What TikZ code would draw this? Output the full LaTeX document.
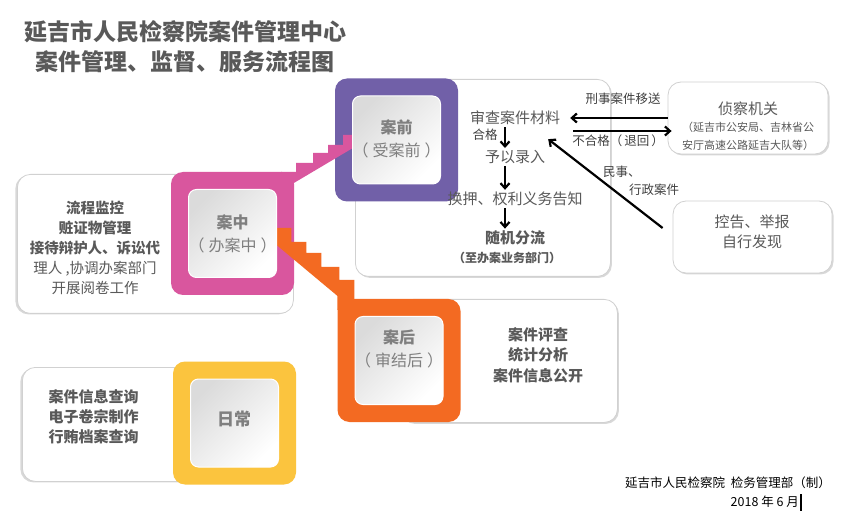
\documentclass[tikz,border=0pt]{standalone}
\usepackage{fontspec}
\setmainfont{Noto Sans CJK SC}
\usepackage{tikz}
\usetikzlibrary{arrows.meta, shadows}

\definecolor{qianc}{HTML}{7160A8}
\definecolor{zhongc}{HTML}{D9569E}
\definecolor{houc}{HTML}{F36A22}
\definecolor{richangc}{HTML}{FBC43E}
\definecolor{wordc}{HTML}{595959}
\definecolor{tagc}{HTML}{7F7F7F}

\begin{document}
\begin{tikzpicture}[
    x=1pt, y=-1pt,
    panel/.style={
        draw=black!18,
        line width=0.8pt,
        fill=white,
        rounded corners=13,
        inner sep=0pt
    },
    rpanel/.style={panel, drop shadow={opacity=0.3, shadow xshift=1.5pt, shadow yshift=-1.5pt}},
    lpanel/.style={panel, drop shadow={opacity=0.3, shadow xshift=-2pt, shadow yshift=-1pt}},
    ring/.style={rounded corners=12, minimum size=123, inner sep=0pt},
    core/.style={
        rounded corners=8,
        minimum size=88,
        inner sep=0pt,
        draw=white,
        line width=1pt,
        top color=black!14,
        bottom color=white,
        shading angle=45
    },
    tag/.style={font=\fontsize{16}{23}\selectfont, text=tagc, align=center},
    headline/.style={font=\fontsize{23}{26}\selectfont\bfseries, text=wordc},
    flow/.style={font=\fontsize{15}{18}\selectfont, text=wordc, inner sep=2pt},
    list/.style={font=\fontsize{14.5}{20}\selectfont\bfseries, text=wordc, align=center},
    note/.style={font=\fontsize{12.5}{14}\selectfont, text=black!75, inner sep=1pt},
    foot/.style={font=\fontsize{12.5}{14}\selectfont, text=black, inner sep=0pt},
    arr/.style={-{Straight Barb[length=5pt, width=9pt]}, line width=2.2pt}
]

% 背景和标题
\fill[white] (0,0) rectangle (854,529);
\useasboundingbox (0,0) rectangle (854,529);
\node[headline] (t1) at (185,32) {延吉市人民检察院案件管理中心};
\node[headline] (t2) at (185,62) {案件管理、监督、服务流程图};

% 白色底板
\node[rpanel, anchor=north west, minimum width=255, minimum height=197] (qianbg) at (355,79) {};
\node[lpanel, anchor=north west, minimum width=276, minimum height=139] (zhongbg) at (17,174) {};
\node[rpanel, anchor=north west, minimum width=217, minimum height=123] (houbg) at (400,299) {};
\node[lpanel, anchor=north west, minimum width=268, minimum height=114] (richangbg) at (22,367) {};
\node[rpanel, minimum width=160, minimum height=72] (zhencha) at (748,118) {};
\node[rpanel, minimum width=159, minimum height=72] (kongao) at (752.5,237) {};

% 彩色方框
\node[ring, fill=qianc] (qian) at (396.5,140) {};
\node[ring, fill=zhongc] (zhong) at (232.5,233.5) {};
\node[ring, fill=houc] (hou) at (399,360.5) {};
\node[ring, fill=richangc] (richang) at (234.5,423) {};

% 台阶
\begin{scope}[shift={(zhong.north east)}]
\fill[zhongc] (-13,0) -- (2,0) -- (2,-9) -- (19,-9) -- (19,-19) -- (34,-19) -- (34,-27)
    -- (49,-27) -- (49,-37) -- (59,-37) -- (59,-24) -- (0,11) -- (-13,11) -- cycle;
\end{scope}
\begin{scope}[shift={(hou.north west)}]
\fill[houc] (-61,-71) -- (-46,-71) -- (-46,-57) -- (-31,-57) -- (-31,-46) -- (-16,-46)
    -- (-16,-32) -- (2,-32) -- (2,-19) -- (17,-19) -- (17,11) -- (0,11) -- (0,-3)
    -- (-61,-54) -- cycle;
\end{scope}

% 内框
\node[core] (qianin) at (qian) {};
\node[core] (zhongin) at (zhong) {};
\node[core] (houin) at (hou) {};
\node[core] (richangin) at (richang) {};

\node[tag] (qiantxt) at (396.5,139) {\textbf{案前}\\（\hspace{4pt}受案前\hspace{4pt}）};
\node[tag] (zhongtxt) at (232.5,233.5) {\textbf{案中}\\（\hspace{4pt}办案中\hspace{4pt}）};
\node[tag] (houtxt) at (399,348.5) {\textbf{案后}\\（\hspace{4pt}审结后\hspace{4pt}）};
\node[tag, font=\fontsize{17}{20}\selectfont\bfseries] (richangtxt) at (234,419) {日常};

% 受案流程
\node[flow] (shencha) at (515,118) {审查案件材料};
\node[flow] (luru) at (515,157) {予以录入};
\node[flow] (gaozhi) at (515,199) {换押、权利义务告知};
\node[flow, font=\fontsize{15}{18}\selectfont\bfseries] (fenliu) at (515,238) {随机分流};
\node[flow, font=\fontsize{12}{14}\selectfont\bfseries] (bumen) at (507,258) {（至办案业务部门）};
\node[note] (hege) at (485,135) {合格};

\draw[arr] ([xshift=-10pt]shencha.south) -- ([xshift=-10pt]luru.north);
\draw[arr] ([xshift=-10pt]luru.south) -- ([xshift=-10pt]gaozhi.north);
\draw[arr] ([xshift=-10pt]gaozhi.south) -- ([xshift=-10pt]fenliu.north);

% 侦察机关、控告
\node[flow, align=center] (zhenchatxt) at (748,126) {侦察机关\\[-1pt]
    \fontsize{11}{15}\selectfont （延吉市公安局、吉林省公\\
    \fontsize{11}{15}\selectfont 安厅高速公路延吉大队等）};
\node[flow, align=center, font=\fontsize{15}{20}\selectfont] (kongaotxt) at (752,232) {控告、举报\\自行发现};

\draw[arr] (zhencha.west) -- ([xshift=8pt]shencha.east);
\draw[arr] ([xshift=11pt, yshift=-13pt]shencha.east) -- ([xshift=4pt, yshift=-13pt]zhencha.west);
\draw[arr] ([xshift=-10pt, yshift=9pt]kongao.west) -- ([xshift=-14pt, yshift=-12pt]shencha.south east);

\node[note] (xingshi) at (623,99) {刑事案件移送};
\node[note] (buhege) at (618,141) {不合格（\hspace{2pt}退回\hspace{2pt}）};
\node[note, anchor=west] (minshi) at (602,172) {民事、};
\node[note, anchor=west] (xingzheng) at (628,190) {行政案件};

% 各阶段工作
\node[list] (zhonglist) at (95,248) {流程监控\\赃证物管理\\接待辩护人、诉讼代\\
    \mdseries 理人 ,协调办案部门\\\mdseries 开展阅卷工作};
\node[list, font=\fontsize{15}{20.5}\selectfont\bfseries] (houlist) at (538,355) {案件评查\\统计分析\\案件信息公开};
\node[list, align=left, font=\fontsize{15}{20}\selectfont\bfseries] (richanglist) at (93.5,417) {案件信息查询\\电子卷宗制作\\行贿档案查询};

% 落款
\node[foot, anchor=east] (zhi) at (831,483) {延吉市人民检察院\ \ 检务管理部（制）};
\node[foot, anchor=east] (riqi) at (799,502) {2018 年 6 月};
\draw[line width=1.6pt] ([xshift=2pt, yshift=8pt]riqi.east) -- ([xshift=2pt, yshift=-9pt]riqi.east);

\end{tikzpicture}
\end{document}
